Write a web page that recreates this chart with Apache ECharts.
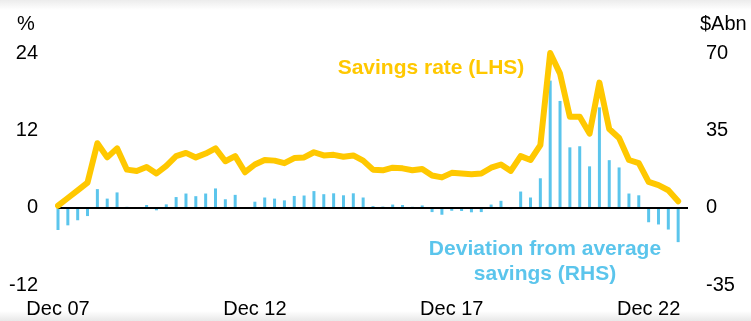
<!DOCTYPE html>
<html>
<head>
<meta charset="utf-8">
<script src="https://cdn.jsdelivr.net/npm/echarts@6/dist/echarts.min.js"></script>
<style>
  html, body { margin: 0; padding: 0; background: #fff; }
  #chart { width: 751px; height: 321px; }
</style>
</head>
<body>
<div id="chart"></div>
<script>
// Quarterly household savings, Dec 2007 to Sep 2023
const firstYear = 2007;
const quarterCount = 65; // one spare slot so the axis runs past the last quarter

// Household savings rate, per cent (left axis)
const savingsRate = [
  0.3, 1.5, 2.7, 3.9, 10.0, 7.8, 9.2, 5.9, 5.7, 6.3,
  5.3, 6.5, 8.0, 8.5, 7.8, 8.4, 9.2, 7.2, 8.0, 5.5,
  6.7, 7.4, 7.3, 6.9, 7.7, 7.8, 8.6, 8.1, 8.2, 7.9,
  8.1, 7.3, 5.9, 5.8, 6.2, 6.1, 5.8, 6.0, 5.0, 4.7,
  5.4, 5.3, 5.2, 5.3, 6.2, 6.7, 5.7, 8.0, 7.4, 9.7,
  24.0, 20.8, 14.1, 14.1, 11.5, 19.4, 12.2, 10.8, 7.4, 6.9,
  4.0, 3.5, 2.7, 1.0
];

// Deviation from average savings, $A billion (right axis)
const savingsDeviation = [
  -10.1, -8.0, -5.7, -3.8, 8.4, 4.1, 6.9, 0.4, -0.5, 1.2,
  -1.2, 1.5, 4.8, 6.4, 5.2, 6.4, 8.7, 3.8, 5.8, -0.3,
  2.7, 4.6, 4.1, 3.3, 5.3, 5.5, 7.5, 6.1, 6.5, 5.6,
  6.5, 4.6, 0.7, 0.5, 1.4, 1.2, 0.4, 1.0, -2.0, -3.2,
  -1.4, -1.5, -2.1, -2.0, 1.4, 3.1, -0.7, 7.3, 4.6, 13.3,
  57.5, 48.3, 27.3, 27.8, 18.7, 45.4, 21.5, 18.2, 6.4, 5.6,
  -6.6, -7.6, -9.9, -15.6
];

const tickLabels = ['Dec 07', 'Dec 12', 'Dec 17', 'Dec 22'];
const leftTicks = { min: -12, max: 24, step: 12 };
const rightTicks = { min: -35, max: 70, step: 35 };

// Quarter names: Dec 07, Mar 08, Jun 08, ...
const months = ['Mar', 'Jun', 'Sep', 'Dec'];
const quarters = [];
for (let i = 0; i < quarterCount; i++) {
  const q = (3 + i) % 4;
  const yr = firstYear + Math.floor((3 + i) / 4);
  quarters.push(months[q] + ' ' + String(yr % 100).padStart(2, '0'));
}

const FONT = '"Liberation Sans", Arial, sans-serif';
const GOLD = '#FFC800';
const BLUE = '#5BC5EC';

const chart = echarts.init(document.getElementById('chart'), null, { renderer: 'canvas' });

chart.setOption({
  animation: false,
  backgroundColor: '#fff',
  grid: { left: 58, right: 63, top: 53, bottom: 36, containLabel: false },
  xAxis: {
    type: 'category',
    data: quarters,
    boundaryGap: false,
    axisLine: { show: false, onZero: false },
    axisTick: { show: false },
    splitLine: { show: false },
    axisLabel: {
      interval: (idx, val) => tickLabels.includes(val),
      margin: 14,
      color: '#000',
      fontSize: 20,
      fontFamily: FONT
    }
  },
  yAxis: [
    {
      type: 'value',
      min: leftTicks.min, max: leftTicks.max, interval: leftTicks.step,
      axisLine: { show: false }, axisTick: { show: false },
      splitLine: { show: false },
      axisLabel: { margin: 20, color: '#000', fontSize: 20, fontFamily: FONT }
    },
    {
      type: 'value',
      min: rightTicks.min, max: rightTicks.max, interval: rightTicks.step,
      position: 'right',
      axisLine: { show: false }, axisTick: { show: false },
      splitLine: { show: false },
      axisLabel: { margin: 18, color: '#000', fontSize: 20, fontFamily: FONT }
    }
  ],
  series: [
    {
      name: 'Deviation from average savings (RHS)',
      type: 'bar',
      yAxisIndex: 1,
      data: savingsDeviation,
      barWidth: 3,
      itemStyle: { color: BLUE },
      z: 2,
      markLine: {
        silent: true,
        symbol: 'none',
        label: { show: false },
        lineStyle: { color: '#000', width: 2, type: 'solid' },
        data: [{ yAxis: 0 }]
      }
    },
    {
      name: 'Savings rate (LHS)',
      type: 'line',
      yAxisIndex: 0,
      data: savingsRate,
      showSymbol: false,
      lineStyle: { color: GOLD, width: 6, join: 'round', cap: 'round' },
      z: 5
    }
  ],
  graphic: [
    {
      type: 'rect', silent: true, z: -10,
      shape: { x: 0, y: 0, width: 751, height: 10 },
      style: { fill: new echarts.graphic.LinearGradient(0, 0, 0, 1, [
        { offset: 0, color: '#ececec' }, { offset: 1, color: '#ffffff' }
      ]) }
    },
    {
      type: 'rect', silent: true, z: -10,
      shape: { x: 0, y: 311, width: 751, height: 10 },
      style: { fill: new echarts.graphic.LinearGradient(0, 0, 0, 1, [
        { offset: 0, color: '#ffffff' }, { offset: 1, color: '#e8e8e8' }
      ]) }
    },
    {
      type: 'text', x: 26, y: 24,
      style: { text: '%', font: '20px ' + FONT, fill: '#000', align: 'center', verticalAlign: 'middle' }
    },
    {
      type: 'text', x: 700, y: 24,
      style: { text: '$Abn', font: '20px ' + FONT, fill: '#000', align: 'left', verticalAlign: 'middle' }
    },
    {
      type: 'text', x: 431, y: 68,
      style: { text: 'Savings rate (LHS)', font: 'bold 21px ' + FONT, fill: GOLD, align: 'center', verticalAlign: 'middle' }
    },
    {
      type: 'text', x: 545, y: 262,
      style: {
        text: 'Deviation from average\nsavings (RHS)',
        font: 'bold 21px ' + FONT, lineHeight: 25,
        fill: BLUE, align: 'center', verticalAlign: 'middle'
      }
    }
  ]
});
</script>
</body>
</html>
